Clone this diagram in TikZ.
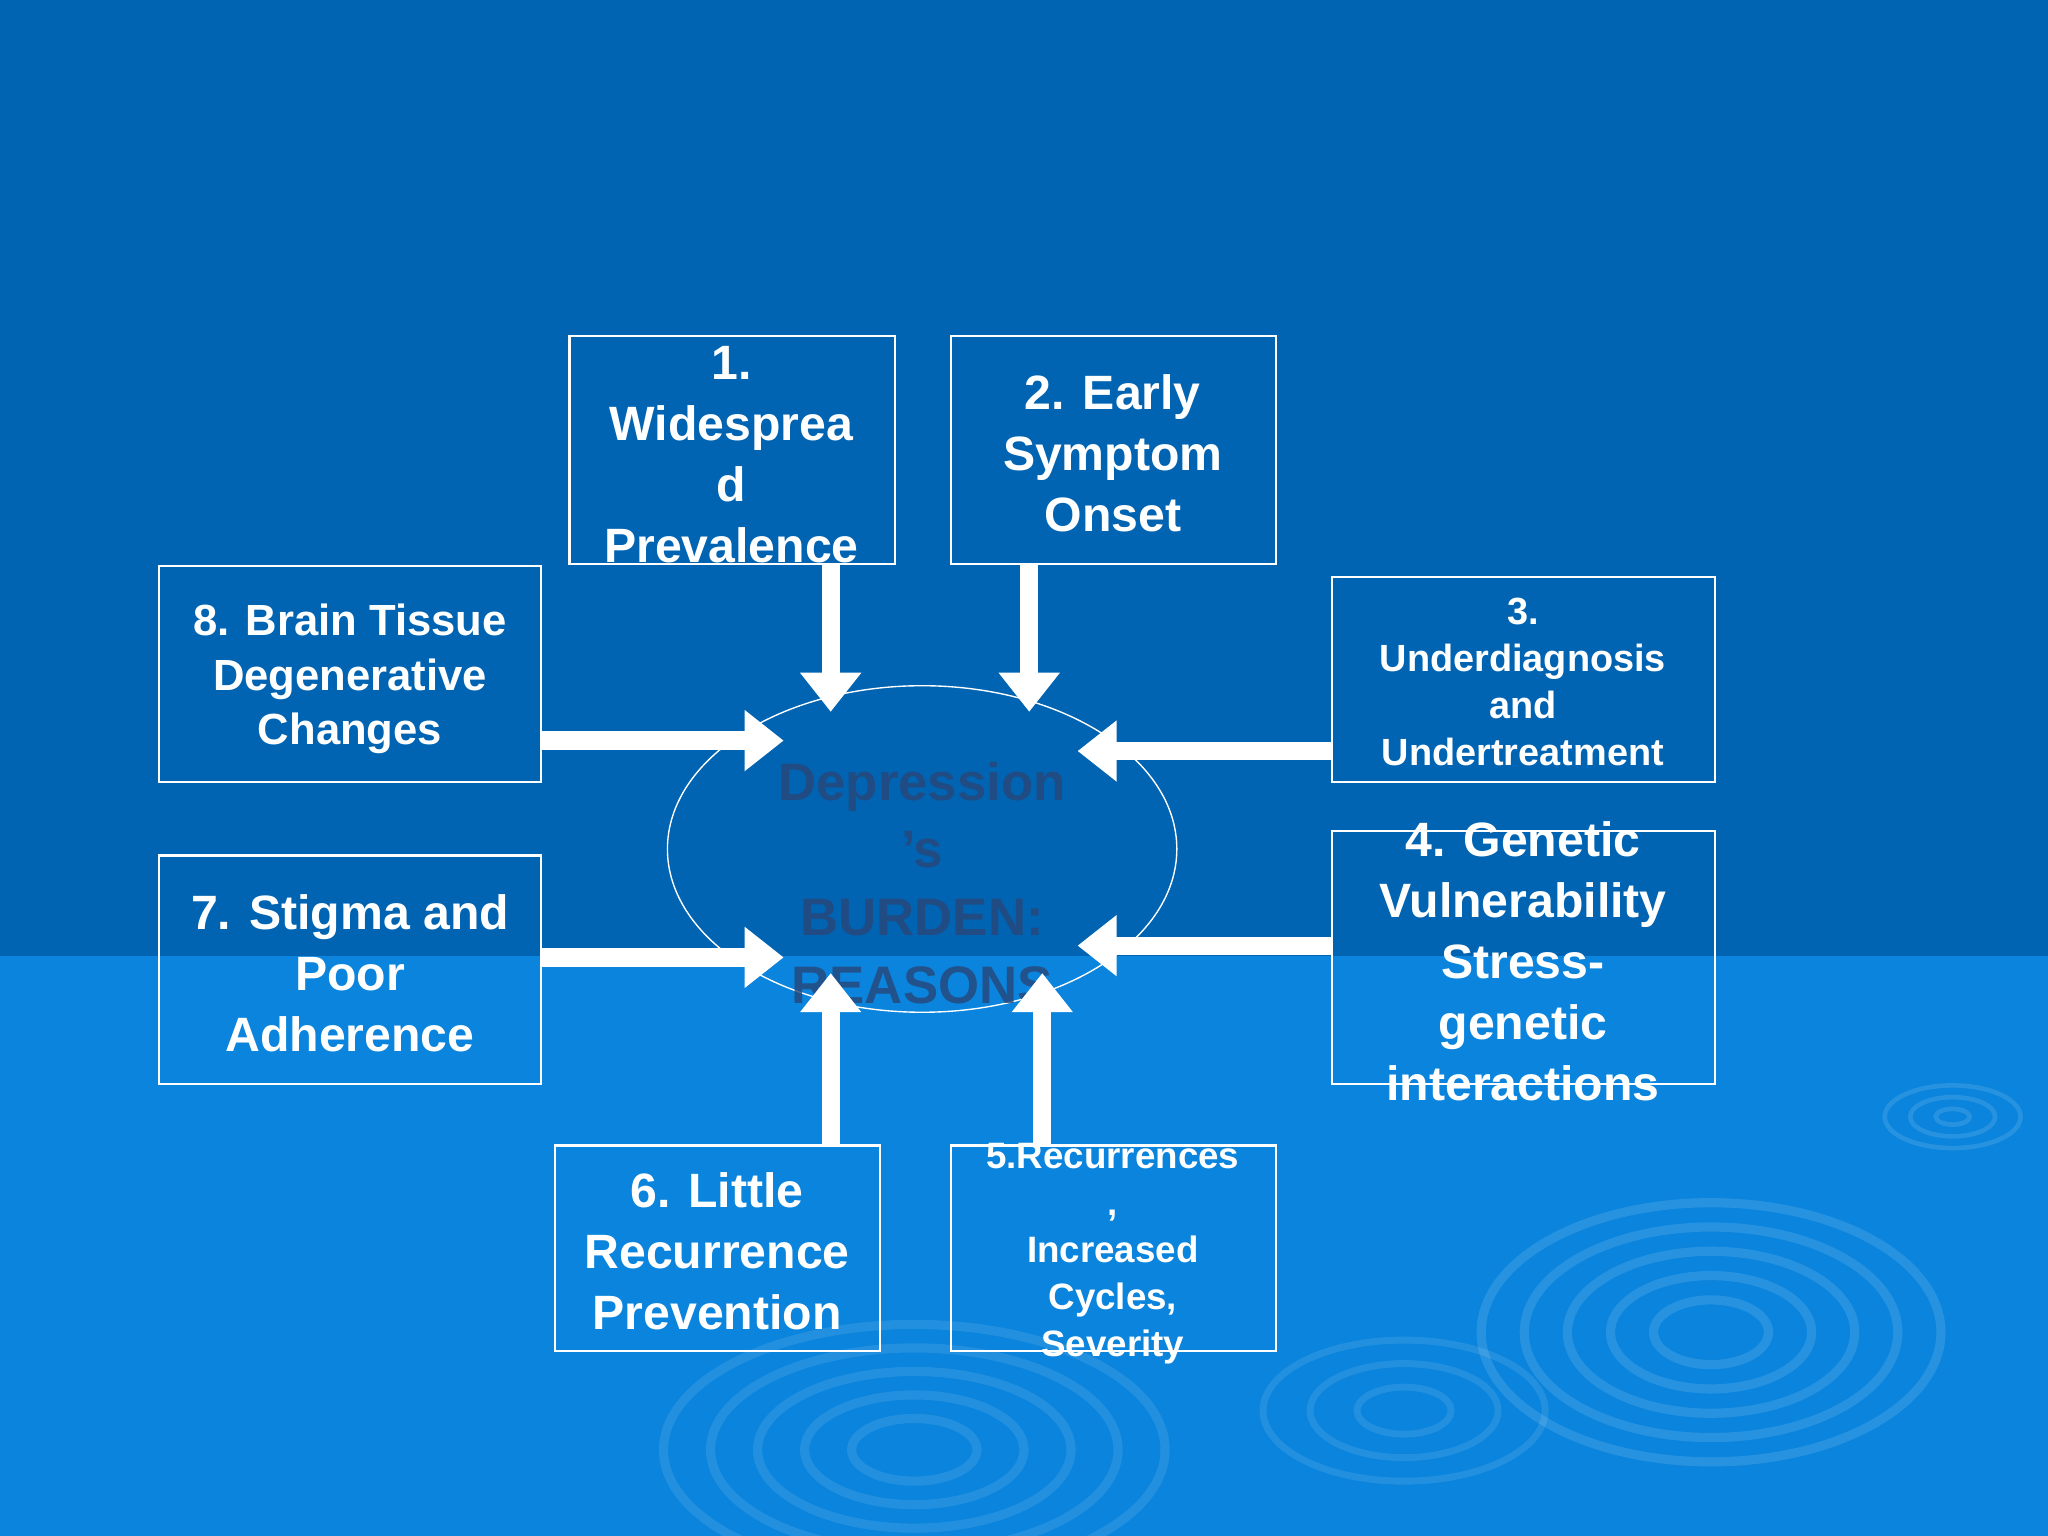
\documentclass[tikz,border=0pt]{standalone}
\usepackage{fontspec}
\setmainfont{Liberation Sans}
\usetikzlibrary{arrows.meta,shapes.geometric}
\begin{document}
\begin{tikzpicture}[x=0.02cm,y=-0.02cm,
  box/.style={draw=white,line width=0.9pt,inner sep=0},
  txt/.style={text=white,font=\bfseries,align=center,inner sep=0},
  arr/.style={draw=white,line width=0.28cm,-{Triangle[width=0.9cm,length=0.6cm]}}]
\useasboundingbox (0,0) rectangle (1568,1176);
\fill[color={rgb,255:red,0;green,100;blue,178}] (0,0) rectangle (1568,732);
\fill[color={rgb,255:red,10;green,132;blue,220}] (0,732) rectangle (1568,1176);
% ripples
\foreach \r in {40,70,100,130,160}{
  \draw[white,opacity=0.12,line width=4pt] (1310,1020) ellipse ({\r*1.1} and {\r*0.62});
  \draw[white,opacity=0.10,line width=4pt] (700,1110) ellipse ({\r*1.2} and {\r*0.6});}
\foreach \r in {30,60,90}{\draw[white,opacity=0.10,line width=3pt] (1075,1080) ellipse ({\r*1.2} and {\r*0.6});}
\foreach \r in {10,25,40}{\draw[white,opacity=0.12,line width=2pt] (1495,855) ellipse ({\r*1.3} and {\r*0.6});}
% boxes
\node[box,minimum width=249*0.02cm,minimum height=175*0.02cm] (b1) at (560.5,344.5) {};
\node[box,minimum width=249*0.02cm,minimum height=175*0.02cm] (b2) at (852.5,344.5) {};
\node[box,minimum width=293*0.02cm,minimum height=157*0.02cm] (b3) at (1166.5,520.5) {};
\node[box,minimum width=293*0.02cm,minimum height=194*0.02cm] (b4) at (1166.5,733) {};
\node[box,minimum width=249*0.02cm,minimum height=157*0.02cm] (b5) at (852.5,955.5) {};
\node[box,minimum width=249*0.02cm,minimum height=157*0.02cm] (b6) at (549.5,955.5) {};
\node[box,minimum width=292*0.02cm,minimum height=175*0.02cm] (b7) at (268,742.5) {};
\node[box,minimum width=292*0.02cm,minimum height=166*0.02cm] (b8) at (268,516) {};
\node[draw=white,line width=0.6pt,ellipse,minimum width=390*0.02cm,minimum height=250*0.02cm,inner sep=0] (c) at (706,650) {};
\node[txt,font=\bfseries\fontsize{23}{29.5}\selectfont,text={rgb,255:red,40;green,70;blue,120},opacity=0.8] at (706,676) {Depression\\'s\\BURDEN:\\REASONS};
% texts
\node[txt,font=\bfseries\fontsize{21}{26.6}\selectfont] at (560,348) {1.\\Widesprea\\d\\Prevalence};
\node[txt,font=\bfseries\fontsize{21}{26.6}\selectfont] at (852,347) {2. Early\\Symptom\\Onset};
\node[txt,font=\bfseries\fontsize{16.5}{20.5}\selectfont] at (1166,522) {3.\\Underdiagnosis\\and\\Undertreatment};
\node[txt,font=\bfseries\fontsize{21}{26.6}\selectfont] at (1166,736) {4. Genetic\\Vulnerability\\Stress-\\genetic\\interactions};
\node[txt,font=\bfseries\fontsize{16}{20.5}\selectfont] at (852,960) {5.Recurrences\\,\\Increased\\Cycles,\\Severity};
\node[txt,font=\bfseries\fontsize{21}{26.6}\selectfont] at (549,958) {6. Little\\Recurrence\\Prevention};
\node[txt,font=\bfseries\fontsize{21}{26.6}\selectfont] at (268,745) {7. Stigma and\\Poor\\Adherence};
\node[txt,font=\bfseries\fontsize{19}{23.8}\selectfont] at (268,520) {8. Brain Tissue\\Degenerative\\Changes};
% arrows
\coordinate (e1) at (636,545); \coordinate (e2) at (788,545);
\coordinate (e3) at (825,575); \coordinate (e4) at (825,724);
\coordinate (e5) at (798,745); \coordinate (e6) at (636,745);
\coordinate (e7) at (600,733); \coordinate (e8) at (600,567);
\draw[arr] (b1.south -| e1) -- (e1);
\draw[arr] (b2.south -| e2) -- (e2);
\draw[arr] (b3.west |- e3) -- (e3);
\draw[arr] (b4.west |- e4) -- (e4);
\draw[arr] (b5.north -| e5) -- (e5);
\draw[arr] (b6.north -| e6) -- (e6);
\draw[arr] (b7.east |- e7) -- (e7);
\draw[arr] (b8.east |- e8) -- (e8);
\end{tikzpicture}
\end{document}
